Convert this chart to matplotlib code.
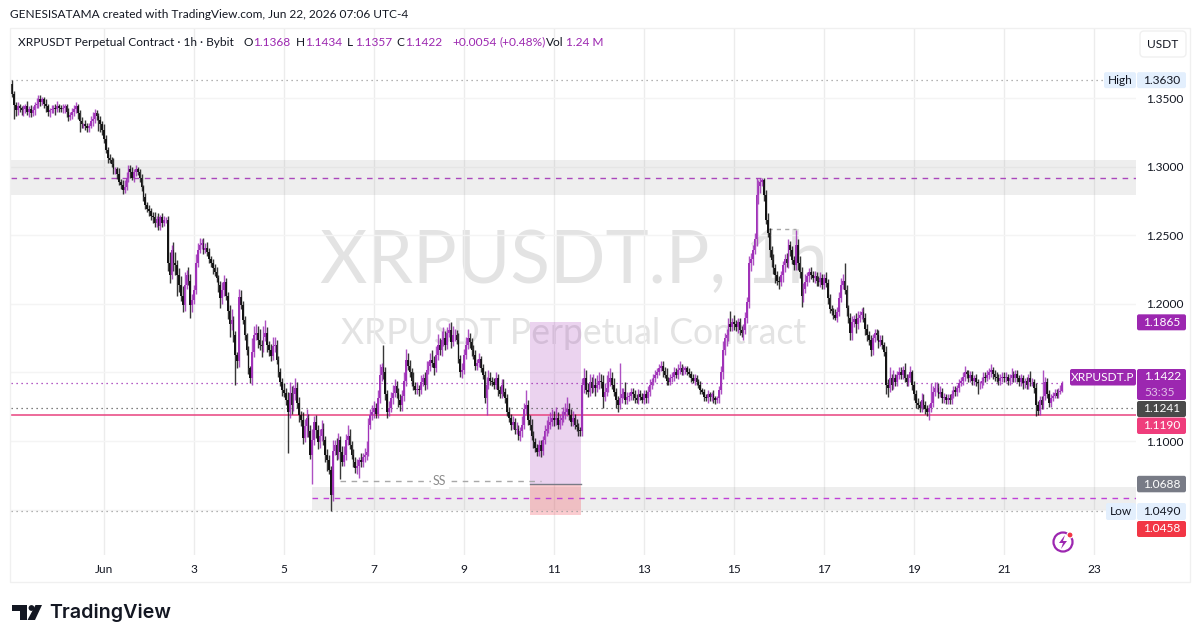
import numpy as np
import matplotlib
matplotlib.use("Agg")
import matplotlib.pyplot as plt
from matplotlib.patches import FancyBboxPatch, Circle, Polygon, Rectangle

plt.rcParams['font.family'] = ['Lato', 'DejaVu Sans']

# hourly closes, in thousandths of a USDT, one row per day
closes = [
    1353,1345,1341,1344,1343,1341,1342,1344,1340,1342,1339,1341,1345,1346,1349,1347,1349,1346,1344,1340,1341,1342,1343,1342,1344,
    1343,1342,1343,1344,1340,1336,1338,1340,1342,1344,1339,1333,1331,1331,1330,1328,1330,1333,1335,1339,1337,1334,1331,1327,
    1320,1312,1306,1305,1302,1298,1298,1295,1289,1287,1283,1285,1292,1298,1296,1292,1296,1298,1296,1292,1285,1278,1272,1269,
    1268,1264,1263,1259,1262,1257,1263,1259,1261,1261,1230,1221,1239,1230,1228,1221,1214,1206,1199,1214,1221,1217,1199,1203,
    1210,1230,1239,1243,1244,1239,1241,1238,1233,1230,1226,1223,1219,1214,1204,1210,1216,1206,1195,1185,1188,1177,1163,1158,
    1205,1199,1188,1177,1166,1153,1146,1165,1177,1179,1174,1170,1169,1176,1179,1170,1166,1162,1169,1170,1159,1150,1143,1137,
    1135,1130,1121,1135,1126,1134,1139,1128,1119,1115,1102,1111,1117,1107,1090,1101,1114,1108,1099,1104,1109,1101,1090,1086,
    1079,1061,1093,1097,1090,1101,1092,1085,1090,1101,1104,1097,1090,1085,1080,1082,1086,1085,1088,1090,1092,1112,1119,1121,
    1124,1120,1131,1148,1154,1150,1134,1121,1124,1131,1135,1140,1135,1130,1126,1133,1144,1159,1155,1150,1144,1140,1137,1138,
    1137,1143,1146,1141,1152,1155,1159,1157,1153,1163,1170,1166,1174,1175,1170,1179,1181,1172,1177,1177,1174,1160,1150,1152,
    1163,1170,1175,1172,1166,1163,1155,1157,1160,1153,1148,1131,1141,1146,1144,1143,1141,1146,1137,1134,1141,1136,1131,1121,
    1117,1112,1114,1108,1109,1104,1107,1112,1123,1126,1115,1112,1104,1099,1095,1092,1097,1093,1101,1107,1109,1112,1114,1117,
    1115,1117,1112,1115,1117,1119,1121,1123,1119,1114,1117,1112,1110,1108,1107,1141,1146,1137,1136,1143,1139,1141,1139,1141,
    1144,1143,1132,1136,1139,1143,1146,1141,1136,1130,1126,1131,1134,1136,1130,1132,1133,1136,1134,1131,1130,1134,1132,1130,
    1134,1131,1136,1141,1143,1146,1148,1150,1153,1155,1151,1148,1144,1143,1146,1147,1150,1148,1152,1153,1150,1152,1153,1150,
    1149,1146,1144,1146,1143,1141,1137,1136,1132,1131,1134,1132,1134,1131,1130,1131,1137,1150,1166,1175,1177,1185,1183,1187,
    1185,1183,1187,1181,1179,1181,1190,1201,1230,1233,1239,1247,1279,1286,1289,1290,1279,1261,1252,1239,1232,1226,1221,1217,
    1216,1221,1228,1233,1230,1243,1239,1232,1228,1243,1230,1223,1206,1211,1216,1220,1223,1221,1219,1220,1217,1216,1219,1214,
    1219,1215,1204,1196,1195,1192,1190,1194,1204,1214,1217,1210,1197,1190,1179,1187,1189,1185,1190,1192,1194,1190,1182,1177,
    1174,1166,1175,1179,1177,1172,1174,1170,1165,1141,1139,1146,1141,1146,1143,1148,1150,1148,1152,1146,1143,1146,1150,1141,
    1134,1128,1126,1124,1130,1126,1123,1121,1124,1128,1136,1139,1139,1134,1136,1131,1132,1130,1131,1130,1134,1137,1136,1139,
    1142,1144,1147,1150,1149,1146,1148,1144,1146,1143,1142,1142,1144,1147,1146,1148,1150,1152,1149,1147,1146,1144,1146,1147,
    1146,1147,1144,1146,1148,1146,1149,1146,1143,1146,1142,1144,1141,1146,1143,1143,1139,1126,1122,1130,1126,1133,1143,1134,
    1128,1131,1133,1135,1133,1136,1136.8,1142.2,
]
upper_wicks = [
    3,2,2,3,2,1,3,2,4,2,3,3,2,4,3,3,2,2,3,2,2,3,2,3,4,
    2,2,3,2,2,3,2,3,3,3,2,2,3,1,3,2,2,4,5,3,2,2,3,2,
    4,3,2,3,2,4,2,2,4,2,3,5,4,3,3,4,2,3,2,2,3,2,3,2,
    3,2,3,4,2,4,2,3,3,2,3,8,4,6,8,4,5,6,7,9,4,6,5,4,
    4,6,5,5,3,4,3,4,3,2,3,3,4,2,3,6,5,3,3,4,8,3,3,2,
    6,5,3,3,2,3,2,10,7,6,5,8,4,8,9,4,3,5,7,6,4,3,3,3,
    5,4,6,8,5,7,7,4,4,3,6,5,6,3,5,8,4,5,4,5,6,4,3,4,
    4,3,8,4,5,5,3,4,6,4,8,5,3,4,3,5,2,5,3,5,8,5,4,5,
    5,4,6,8,3,16,4,3,5,5,6,5,4,4,4,4,6,8,5,4,3,6,3,5,
    3,5,3,4,6,3,5,7,5,6,8,5,6,8,5,4,5,6,7,5,4,5,3,5,
    4,6,7,4,3,4,3,3,4,2,3,3,6,6,4,3,3,4,3,3,4,4,3,3,
    4,3,4,3,5,3,3,6,5,11,4,4,4,3,3,3,4,4,3,5,6,6,7,6,
    5,8,4,5,5,6,7,9,5,4,5,3,4,3,2,5,7,6,5,6,4,8,5,7,
    6,5,5,6,9,8,7,4,5,3,3,26,5,3,7,4,3,3,3,3,3,4,3,3,
    3,3,4,4,3,3,4,3,3,3,3,3,5,3,3,3,4,3,4,5,3,3,2,2,
    3,2,3,3,2,2,3,2,2,2,3,2,2,3,2,2,3,5,7,4,5,5,10,3,
    5,3,3,3,3,4,4,4,5,4,4,5,13,4,3,2,2,4,5,3,3,4,3,3,
    3,3,3,3,4,4,3,3,3,11,4,5,4,4,6,3,3,4,3,4,3,3,4,3,
    3,4,3,3,3,2,4,4,5,5,5,13,4,2,3,4,3,4,5,3,3,4,3,3,
    3,3,3,3,3,4,3,3,2,4,4,8,3,6,3,3,4,4,3,5,3,3,5,2,
    3,3,3,3,5,4,3,3,3,14,4,4,4,3,4,3,3,2,3,3,3,3,3,2,
    3,3,3,5,2,3,3,3,2,3,2,2,3,3,3,4,3,4,2,3,3,3,3,3,
    3,3,2,3,5,3,3,3,2,3,2,2,3,3,5,3,2,3,3,3,3,19,4,3,
    3,3,3,3,3,3,4,1.2,
]
lower_wicks = [
    2,10,4,3,3,3,4,3,2,4,3,2,3,2,3,3,2,3,4,3,4,2,3,4,2,
    3,2,3,4,4,3,2,3,3,3,4,8,3,3,3,3,3,2,3,3,3,8,6,4,
    3,2,3,2,2,3,3,4,2,3,3,2,2,3,4,2,3,3,2,3,3,3,3,2,
    4,3,4,3,3,3,3,3,2,2,6,6,3,6,7,15,5,4,5,4,3,3,9,5,
    3,3,3,2,3,3,2,3,3,3,4,3,3,5,7,4,4,3,6,9,4,5,22,5,
    4,3,3,3,3,4,4,5,4,3,6,4,8,4,3,5,4,4,3,4,3,3,3,4,
    3,4,30,4,6,4,4,4,5,4,4,3,8,4,3,21,4,6,5,4,4,4,5,8,
    3,12,5,3,4,3,20,3,3,4,4,3,3,4,3,4,9,4,4,3,4,3,3,4,
    4,3,3,3,4,5,4,4,3,3,4,3,4,5,4,4,4,4,3,3,4,3,3,3,
    4,3,3,4,3,3,4,3,5,3,4,3,4,5,4,3,3,4,3,4,3,3,3,4,
    3,3,3,4,4,3,3,3,3,3,3,3,12,3,3,3,3,3,4,3,3,3,3,3,
    3,4,3,3,3,3,4,4,3,3,3,4,3,4,3,3,3,5,3,3,3,3,3,3,
    4,3,3,3,3,3,3,3,4,3,3,3,3,4,3,3,6,3,4,3,4,3,6,3,
    3,4,8,3,3,3,3,3,3,6,5,3,3,3,3,3,3,3,4,3,2,3,2,2,
    3,3,3,3,3,2,3,2,2,2,4,2,3,2,2,3,3,2,3,3,2,2,3,2,
    2,3,2,3,2,2,3,2,3,2,3,3,3,3,3,2,3,3,5,3,6,4,3,3,
    4,3,4,4,3,5,3,4,4,6,5,3,5,6,5,3,4,3,3,5,5,4,6,3,
    5,3,5,5,3,4,4,3,3,3,5,4,8,5,3,3,4,3,3,4,4,3,4,3,
    3,3,4,3,3,3,2,3,3,3,3,3,6,4,5,5,4,6,3,3,3,3,5,4,
    4,4,3,3,3,4,3,3,3,7,7,3,4,3,3,3,3,3,3,3,3,3,3,4,
    4,4,3,3,3,3,3,3,6,3,3,3,3,3,2,3,3,3,3,3,3,3,3,3,
    3,2,3,3,3,3,3,3,3,3,8,4,3,3,3,2,3,3,4,3,3,3,3,3,
    3,3,3,3,3,3,3,3,3,3,4,3,3,3,3,3,4,8,3,3,3,3,3,3,
    3,3,2,2,2,2,2,1.1,
]
first_open = 1360
first_hour = -49    # hours relative to Jun 1 00:00

price_ticks = [1.05, 1.10, 1.15, 1.20, 1.25, 1.30, 1.35]
price_labels = ['', '1.1000', '', '1.2000', '1.2500', '1.3000', '1.3500']
date_ticks = [0, 48, 96, 144, 192, 240, 288, 336, 384, 432, 480, 528]
date_labels = ['Jun', '3', '5', '7', '9', '11', '13', '15', '17', '19', '21', '23']

high_price, low_price = 1.3630, 1.0490
last_price, pink_price, dark_price = 1.1422, 1.1190, 1.1241
zone_top_price, zone_mid_price, zone_bottom_price = 1.1865, 1.0688, 1.0458

PURPLE = '#9c27b0'
INK = '#131722'
TXT = 8.6

fig = plt.figure(figsize=(12, 6.43), dpi=100, facecolor='white')
ax = fig.add_axes([11 / 1200, 88 / 643, 1125 / 1200, 527 / 643])

closes_p = np.array(closes) / 1000
opens_p = np.r_[first_open / 1000, closes_p[:-1]]
highs_p = np.maximum(opens_p, closes_p) + np.array(upper_wicks) / 1000
lows_p = np.minimum(opens_p, closes_p) - np.array(lower_wicks) / 1000
hours = first_hour + np.arange(len(closes_p))

ax.set_xlim(-49.6, 550.4)
ax.set_ylim(1.0169, 1.4011)

# grid
ax.set_axisbelow(True)
ax.set_xticks(date_ticks)
ax.set_xticklabels(date_labels, fontsize=TXT, color=INK)
ax.set_yticks(price_ticks)
ax.set_yticklabels(price_labels, fontsize=TXT, color=INK)
ax.yaxis.tick_right()
ax.tick_params(axis='x', length=0, pad=6.5)
ax.tick_params(axis='y', length=0, pad=7)
ax.grid(axis='x', color='#ececec', lw=1)
ax.grid(axis='y', color='#f4f4f4', lw=1)
for s in ax.spines.values():
    s.set_visible(False)

# watermark
ax.text(0.5, 0.555, 'XRPUSDT.P, 1h', transform=ax.transAxes, ha='center', va='center',
        fontsize=52.6, color='#e3e3e3', zorder=0.5)
ax.text(0.5, 0.4195, 'XRPUSDT Perpetual Contract', transform=ax.transAxes, ha='center', va='center',
        fontsize=25.6, color='#e3e3e3', zorder=0.5)

# supply / demand zones
ax.add_patch(Rectangle((-49.6, 1.2793), 600, 0.0255, fc='#7a7a7a', alpha=0.12, ec='none', zorder=1))
ax.add_patch(Rectangle((111, 1.0497), 439.4, 0.0170, fc='#7a7a7a', alpha=0.12, ec='none', zorder=1))

# position box
ax.add_patch(Rectangle((227.2, zone_mid_price), 27.2, zone_top_price - zone_mid_price,
                       fc=PURPLE, alpha=0.2, ec='none', zorder=1.5))
ax.add_patch(Rectangle((227.2, zone_bottom_price), 27.2, zone_mid_price - zone_bottom_price,
                       fc='#f23645', alpha=0.25, ec='none', zorder=1.5))
ax.plot([227.2, 254.4], [zone_mid_price] * 2, color='#787b86', lw=1, zorder=2)

# levels
ax.plot([-49.6, 550.4], [1.292] * 2, color='#ab47bc', lw=1, dashes=(4, 4), zorder=2)
ax.plot([111, 550.4], [1.0583] * 2, color='#c040d8', lw=1, dashes=(4, 4), zorder=2)
ax.plot([-49.6, 533], [high_price] * 2, color='#9a9a9a', lw=0.9, dashes=(1, 3), zorder=2)
ax.plot([-49.6, 533], [low_price] * 2, color='#9a9a9a', lw=0.9, dashes=(1, 3), zorder=2)
ax.plot([-49.6, 512], [last_price] * 2, color=PURPLE, lw=0.9, dashes=(1, 3), zorder=2)
ax.plot([-49.6, 550.4], [dark_price] * 2, color='#555555', lw=0.9, dashes=(1, 3), zorder=2)
ax.plot([-49.6, 550.4], [pink_price] * 2, color='#e8437f', lw=1.1, zorder=2)

# sweep markers
ax.plot([126, 233], [1.0708] * 2, color='#a8a8a8', lw=1, dashes=(4, 4), zorder=2)
ax.text(179, 1.0708, 'SS', ha='center', va='center', fontsize=9, color='#8a8a8a',
        bbox=dict(fc='white', ec='none', pad=1.5), zorder=2.1)
ax.plot([354, 369], [1.2546] * 2, color='#a8a8a8', lw=1, dashes=(3, 3), zorder=2)

# candles
up = closes_p >= opens_p
for mask, col in ((~up, '#141414'), (up, '#a032b8')):
    ax.vlines(hours[mask], lows_p[mask], highs_p[mask], color=col, lw=1.0, zorder=3, alpha=0.85)
    ax.bar(hours[mask], np.abs(closes_p - opens_p)[mask], bottom=np.minimum(opens_p, closes_p)[mask],
           width=0.85, color=col, linewidth=0, zorder=3)

# overlay in figure pixels for the price tags, header and logo
ov = fig.add_axes([0, 0, 1, 1], facecolor='none')
ov.set_xlim(0, 1200)
ov.set_ylim(643, 0)
ov.axis('off')
ov.add_patch(Rectangle((10, 27.5), 1180, 554.5, fc='none', ec='#f0f0f0', lw=1))


def tag(x0, x1, y0, y1, col, text=None, tcol='white', tx=None):
    ov.add_patch(FancyBboxPatch((x0 + 1.5, y0 + 1.5), x1 - x0 - 3, y1 - y0 - 3,
                                boxstyle='round,pad=1.5,rounding_size=2', fc=col, ec='none'))
    if text:
        ov.text(tx if tx else (x0 + x1) / 2, (y0 + y1) / 2, text, color=tcol, fontsize=TXT,
                ha='center', va='center')


def py(price):
    return 441 - (price - 1.10) * 1372


ov.add_patch(FancyBboxPatch((1142, 33), 42, 22, boxstyle='round,pad=2,rounding_size=4', fc='white', ec='#f0f0f0', lw=1))
ov.text(1163, 44, 'USDT', fontsize=TXT, color=INK, ha='center', va='center')

tag(1104, 1136, py(high_price) - 8, py(high_price) + 8, '#e3effd', 'High', INK)
tag(1137, 1186, py(high_price) - 8, py(high_price) + 8, '#e3effd', '%.4f' % high_price, INK)
tag(1137, 1186, py(zone_top_price) - 8, py(zone_top_price) + 8, PURPLE, '%.4f' % zone_top_price)
tag(1070, 1136, 369, 385.5, PURPLE, 'XRPUSDT.P')
tag(1137, 1186, 369, 400, PURPLE)
ov.text(1163, 377, '%.4f' % last_price, color='white', fontsize=TXT, ha='center', va='center')
ov.text(1160, 392, '53:35', color='#e1bee7', fontsize=TXT, ha='center', va='center')
tag(1137, 1186, 401, 417, '#4a4a4a', '%.4f' % dark_price)
tag(1137, 1186, 417.5, 434, '#ef3d7c', '%.4f' % pink_price)
tag(1137, 1186, py(zone_mid_price) - 8, py(zone_mid_price) + 8.5, '#787b86', '%.4f' % zone_mid_price)
tag(1106, 1136, 503, 520, '#e3effd', 'Low', INK)
tag(1137, 1186, 503, 520, '#e3effd', '%.4f' % low_price, INK)
tag(1137, 1186, 521, 537, '#f23645', '%.4f' % zone_bottom_price)

# header
ov.text(10, 15, 'GENESISATAMA created with TradingView.com, Jun 22, 2026 07:06 UTC-4',
        fontsize=TXT, color=INK, va='center')
ov.text(18, 42, 'XRPUSDT Perpetual Contract · 1h · Bybit', fontsize=TXT, color=INK, va='center')
legend_items = [(244, 'O', INK), (253, '1.1368', PURPLE), (296, 'H', INK), (305, '1.1434', PURPLE),
                (347, 'L', INK), (355, '1.1357', PURPLE), (396, 'C', INK), (405, '1.1422', PURPLE),
                (452, '+0.0054', PURPLE), (499, '(+0.48%)', PURPLE), (546, 'Vol', INK), (566, '1.24 M', PURPLE)]
for lx, ltext, lcol in legend_items:
    ov.text(lx, 42, ltext, fontsize=TXT, color=lcol, va='center')

# lightning badge
ov.add_patch(Circle((1063, 542), 9.5, fc='white', ec=PURPLE, lw=1.6))
ov.add_patch(Polygon([[1065, 535], [1059, 543], [1063, 543], [1061, 549], [1067, 541], [1063, 541]], fc=PURPLE, ec='none'))
ov.add_patch(Circle((1070, 535), 3, fc='#f23645', ec='white', lw=0.8))

# logo
logo = '#131722'
ov.add_patch(Polygon([[12, 605], [27, 605], [27, 620], [20, 620], [20, 610.5], [12, 610.5]], fc=logo, ec='none'))
ov.add_patch(Circle((31.5, 608), 2.9, fc=logo, ec='none'))
ov.add_patch(Polygon([[35.5, 605], [42, 605], [35, 620], [27.5, 620]], fc=logo, ec='none'))
ov.text(49, 613, 'TradingView', fontsize=14.2, fontweight='semibold', family='Inter', color=logo, va='center')

fig.savefig('out.png', dpi=100, facecolor='white')
